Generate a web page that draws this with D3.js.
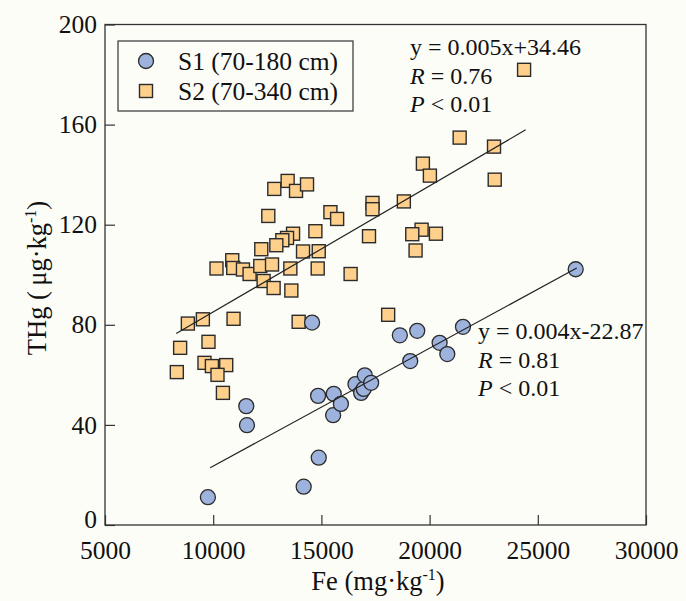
<!DOCTYPE html>
<html><head><meta charset="utf-8">
<script src="https://cdn.jsdelivr.net/npm/d3@7"></script>
<style>
html,body{margin:0;padding:0;background:#fdfdf8;}
text{font-family:"Liberation Serif","Times New Roman",serif;fill:#111;}
</style></head>
<body>
<svg id="chart" width="686" height="601"></svg>
<script>
// ---- data ----
const xTicks = [5000, 10000, 15000, 20000, 25000, 30000];
const yTicks = [0, 40, 80, 120, 160, 200];
const seriesNames = ["S1 (70-180 cm)", "S2 (70-340 cm)"];

const s1Fe  = [9755, 11528, 11560, 14181, 14569, 14847, 14877, 15542, 15570, 15900, 16574, 16836, 16958, 17005, 17299, 18625, 19105, 19429, 20463, 20818, 21542, 26751];
const s1THg = [11.1, 47.5, 39.9, 15.3, 80.9, 51.6, 26.9, 43.9, 52.4, 48.4, 56.3, 52.8, 54.4, 59.8, 56.8, 75.8, 65.5, 77.6, 72.8, 68.3, 79.2, 102.2];

const s2Fe  = [8829, 9523, 10940, 8472, 9782, 8319, 9597, 9940, 10602, 10199, 10449,
               12824, 13440, 13827, 14336, 12546, 15417, 15727, 17361, 17361, 18810,
               13690, 13412, 13194, 14722, 12917, 12222, 14151, 14877, 17200,
               10880, 10926, 10153, 11375, 11681, 12176, 12718, 13565, 14829, 16350,
               12329, 12792, 13611, 13949, 18085,
               21389, 22977, 19690, 20014, 23009, 19630, 19199, 20292, 19352, 24366];
const s2THg = [80.5, 82.2, 82.4, 70.8, 73.2, 61.1, 64.8, 63.5, 63.9, 60.0, 52.8,
               134.3, 137.5, 133.5, 136.1, 123.5, 125.0, 122.3, 128.7, 126.2, 129.3,
               116.4, 114.7, 113.8, 117.4, 111.8, 110.2, 109.3, 109.4, 115.4,
               105.8, 102.7, 102.5, 102.1, 100.3, 103.5, 104.1, 102.5, 102.5, 100.3,
               97.5, 94.7, 93.7, 81.2, 84.0,
               154.8, 151.2, 144.4, 139.6, 138.0, 118.0, 116.2, 116.4, 109.7, 181.9];

// fitted lines (endpoints as drawn)
const fit2Fe = [8290, 24440], fit2THg = [76.5, 157.9];   // S2
const fit1Fe = [9860, 26800], fit1THg = [22.9, 102.7];   // S1

const annotS2 = ["y = 0.005x+34.46", "0.76", "0.01"];
const annotS1 = ["y = 0.004x-22.87", "0.81", "0.01"];

// ---- chart ----
const svg = d3.select("#chart");
const L = 105, R = 646, T = 24.5, B = 525;
const x = d3.scaleLinear().domain([5000, 30000]).range([L, R]);
const y = d3.scaleLinear().domain([0, 200]).range([B, T]);

svg.append("rect").attr("width", 686).attr("height", 601).attr("fill", "#fdfdf8");

// axes
const gx = svg.append("g").attr("transform", `translate(0,${B})`)
  .call(d3.axisBottom(x).tickValues(xTicks).tickFormat(d3.format("d"))
        .tickSizeInner(-10).tickSizeOuter(0).tickPadding(16));
const gy = svg.append("g").attr("transform", `translate(${L},0)`)
  .call(d3.axisLeft(y).tickValues(yTicks).tickFormat(d3.format("d"))
        .tickSizeInner(-10).tickSizeOuter(0).tickPadding(8));
[gx, gy].forEach(g => {
  g.select(".domain").remove();
  g.selectAll(".tick line").attr("stroke", "#333").attr("stroke-width", 1.2);
  g.selectAll(".tick text").attr("font-size", 25.5).attr("fill", "#111")
   .attr("font-family", '"Liberation Serif","Times New Roman",serif');
});
// lift the "0" label slightly, as in the reference
gy.selectAll(".tick text").filter(d => d === 0).attr("dy", "0.1em");

// frame
svg.append("rect").attr("x", L).attr("y", T).attr("width", R - L).attr("height", B - T)
  .attr("fill", "none").attr("stroke", "#333").attr("stroke-width", 1.3);

// squares S2
const sq = 13;
const s2 = s2Fe.map((v, i) => ({fe: v, hg: s2THg[i]}));
svg.append("g").selectAll("rect").data(s2).join("rect")
  .attr("x", d => x(d.fe) - sq / 2).attr("y", d => y(d.hg) - sq / 2)
  .attr("width", sq).attr("height", sq)
  .attr("fill", "#ffd08c").attr("stroke", "#2b2b2b").attr("stroke-width", 1.4);

// circles S1
const s1 = s1Fe.map((v, i) => ({fe: v, hg: s1THg[i]}));
svg.append("g").selectAll("circle").data(s1).join("circle")
  .attr("cx", d => x(d.fe)).attr("cy", d => y(d.hg)).attr("r", 7.5)
  .attr("fill", "#9db2dc").attr("stroke", "#2b2b2b").attr("stroke-width", 1.3);

// fit lines
const line = d3.line().x(d => x(d[0])).y(d => y(d[1]));
svg.append("path").attr("d", line(fit2Fe.map((v, i) => [v, fit2THg[i]])))
  .attr("stroke", "#222").attr("stroke-width", 1.2).attr("fill", "none");
svg.append("path").attr("d", line(fit1Fe.map((v, i) => [v, fit1THg[i]])))
  .attr("stroke", "#222").attr("stroke-width", 1.2).attr("fill", "none");

// annotations
function annot(x0, y0, lines) {
  const g = svg.append("g").attr("font-size", 24);
  g.append("text").attr("x", x0).attr("y", y0).text(lines[0]);
  const t2 = g.append("text").attr("x", x0).attr("y", y0 + 28.5);
  t2.append("tspan").attr("font-style", "italic").text("R");
  t2.append("tspan").text(" = " + lines[1]);
  const t3 = g.append("text").attr("x", x0).attr("y", y0 + 57);
  t3.append("tspan").attr("font-style", "italic").text("P");
  t3.append("tspan").text(" < " + lines[2]);
}
annot(410, 55, annotS2);
annot(478, 339, annotS1);

// legend
svg.append("rect").attr("x", 118).attr("y", 41).attr("width", 235).attr("height", 70)
  .attr("fill", "none").attr("stroke", "#333").attr("stroke-width", 1.2);
svg.append("circle").attr("cx", 146).attr("cy", 61).attr("r", 7.5)
  .attr("fill", "#9db2dc").attr("stroke", "#2b2b2b").attr("stroke-width", 1.3);
svg.append("rect").attr("x", 146 - sq / 2).attr("y", 91 - sq / 2).attr("width", sq).attr("height", sq)
  .attr("fill", "#ffd08c").attr("stroke", "#2b2b2b").attr("stroke-width", 1.4);
svg.append("text").attr("x", 178).attr("y", 70).attr("font-size", 25.5).text(seriesNames[0]);
svg.append("text").attr("x", 178).attr("y", 99.5).attr("font-size", 25.5).text(seriesNames[1]);

// axis titles
const xt = svg.append("text").attr("x", 378).attr("y", 590).attr("text-anchor", "middle").attr("font-size", 26.5);
xt.append("tspan").text("Fe (mg·kg");
xt.append("tspan").attr("font-size", 16).attr("dy", -10).text("-1");
xt.append("tspan").attr("dy", 10).text(")");

const yt = svg.append("text").attr("transform", "translate(46,278) rotate(-90)")
  .attr("text-anchor", "middle").attr("font-size", 26.5);
yt.append("tspan").text("THg (\u2009μg·kg");
yt.append("tspan").attr("font-size", 16).attr("dy", -10).text("-1");
yt.append("tspan").attr("dy", 10).text(")");
</script>
</body></html>
